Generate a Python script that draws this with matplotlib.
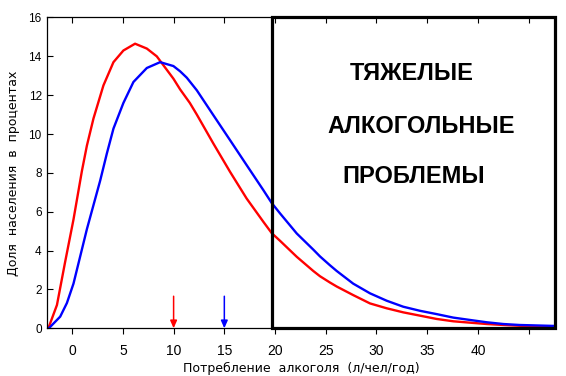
import matplotlib.pyplot as plt
from matplotlib.patches import Rectangle

# courbes (consommation en l/chel/an, part de la population en %)
red_x = [-2.35, -1.5, -0.7, 0.13, 0.96, 1.45, 2.1, 3.08, 4.07, 5.05, 6.2, 7.36, 8.34,
         9.98, 10.64, 11.6, 12.29, 13.92, 15.57, 17.2, 18.85, 19.67, 20.5, 22.14, 23.77,
         24.43, 25.4, 26.08, 27.7, 29.36, 31.0, 32.64, 34.29, 35.93, 37.57, 39.2, 40.86,
         42.5, 44.1, 47.6]
red_y = [0, 1.2, 3.4, 5.6, 8.1, 9.4, 10.8, 12.5, 13.7, 14.3, 14.65, 14.4, 14.0,
         12.85, 12.3, 11.6, 11.0, 9.51, 8.05, 6.68, 5.48, 4.9, 4.5, 3.68, 2.95,
         2.68, 2.36, 2.15, 1.71, 1.28, 1.03, 0.82, 0.65, 0.48, 0.36, 0.29, 0.22,
         0.17, 0.13, 0.08]

blue_x = [-2.3, -1.18, -0.52, 0.13, 0.79, 1.45, 2.1, 2.76, 3.42, 4.07, 5.05, 6.04, 7.36,
          8.67, 9.98, 10.64, 11.3, 12.29, 13.92, 15.57, 17.2, 18.85, 19.67, 20.5, 22.14,
          23.77, 24.43, 25.4, 26.08, 27.7, 29.36, 31.0, 32.64, 34.29, 35.93, 37.57, 39.2,
          40.86, 42.5, 44.1, 47.6]
blue_y = [0, 0.6, 1.3, 2.3, 3.7, 5.1, 6.34, 7.6, 9.0, 10.28, 11.6, 12.68, 13.4,
          13.7, 13.5, 13.23, 12.9, 12.25, 10.97, 9.68, 8.4, 7.11, 6.45, 5.91, 4.88,
          4.05, 3.7, 3.25, 2.95, 2.3, 1.8, 1.42, 1.11, 0.9, 0.73, 0.55, 0.43,
          0.31, 0.22, 0.17, 0.12]

# moyennes (fleches)
red_mean = 10
blue_mean = 15
arrow_len = 1.65

box_start = 19.7
box_lines = ["ТЯЖЕЛЫЕ", "АЛКОГОЛЬНЫЕ", "ПРОБЛЕМЫ"]
box_text_pos = [(33.5, 13.1), (34.45, 10.37), (33.7, 7.8)]

x_ticks = [0, 5, 10, 15, 20, 25, 30, 35, 40, 45]
x_labels = ["0", "5", "10", "15", "20", "25", "30", "35", "40", ""]
y_ticks = [0, 2, 4, 6, 8, 10, 12, 14, 16]

xmin, xmax = -2.45, 47.6
ymin, ymax = 0, 16

fig = plt.figure(figsize=(5.66, 3.76), dpi=100)
ax = fig.add_axes([0.0836, 0.1269, 0.8970, 0.8266])

ax.plot(red_x, red_y, color="#ff0000", lw=1.7, solid_joinstyle="round")
ax.plot(blue_x, blue_y, color="#0000ff", lw=1.7, solid_joinstyle="round")

# fleches des moyennes
for xm, col in [(red_mean, "#ff0000"), (blue_mean, "#0000ff")]:
    ax.annotate("", xy=(xm, 0), xytext=(xm, arrow_len),
                arrowprops=dict(arrowstyle="-|>,head_length=0.45,head_width=0.2",
                                color=col, lw=1.1, shrinkA=0, shrinkB=0))

# cadre des problemes graves
ax.add_patch(Rectangle((box_start, ymin), xmax - box_start, ymax - ymin,
                       fill=False, ec="black", lw=2.3, clip_on=False, zorder=5))
for (tx, ty), txt in zip(box_text_pos, box_lines):
    ax.text(tx, ty, txt, ha="center", va="center", fontsize=17,
            fontweight="bold", family="Liberation Sans")

ax.set_xlim(xmin, xmax)
ax.set_ylim(ymin, ymax)
ax.set_xticks(x_ticks)
ax.set_xticklabels(x_labels, family="Liberation Sans", fontsize=10)
ax.set_yticks(y_ticks)
ax.set_yticklabels([str(v) for v in y_ticks], family="Liberation Sans", fontsize=8.5)
ax.tick_params(axis="x", direction="out", length=4, width=0.8, pad=7)
ax.tick_params(axis="y", direction="in", length=4, width=0.8, pad=4)
for s in ax.spines.values():
    s.set_linewidth(0.9)
ax.spines["right"].set_visible(False)

# petits traits en haut, vers l'interieur
top = ax.secondary_xaxis("top")
top.set_xticks(x_ticks)
top.set_xticklabels([])
top.tick_params(direction="in", length=4, width=0.8)
top.spines["top"].set_visible(False)

ax.set_xlabel("Потребление  алкоголя  (л/чел/год)", fontsize=9, labelpad=3)
ax.set_ylabel("Доля  населения  в  процентах", fontsize=9, labelpad=6)

fig.savefig("out.png", dpi=100)
